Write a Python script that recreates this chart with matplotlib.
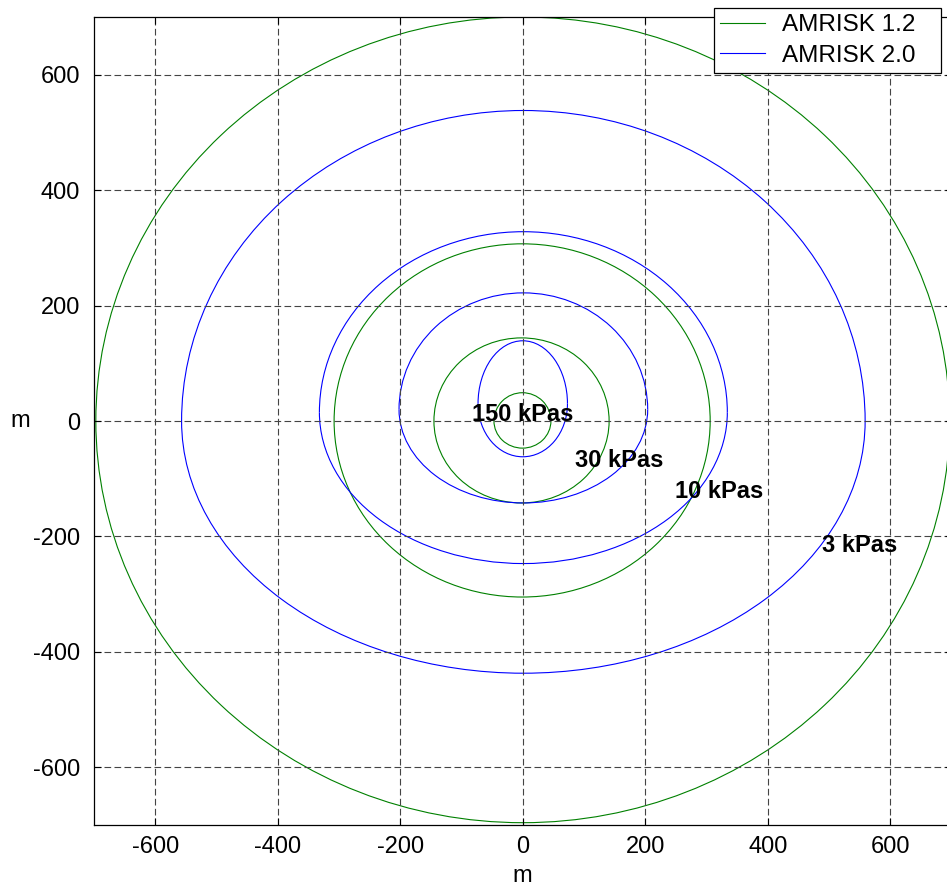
import matplotlib.pyplot as plt
from matplotlib.patches import Arc

plt.rcParams["font.family"] = ["Liberation Sans", "DejaVu Sans"]
plt.rcParams["font.size"] = 17
plt.rcParams["axes.unicode_minus"] = False

# contour extents (m): left, right, top, bottom, y of widest point
green_left = [-697, -308, -145, -47]
green_right = [697, 306, 141, 46]
green_top = [700, 307, 144, 49]
green_bottom = [-696, -305, -142, -47]
green_mid = [0, 0, 0, 0]

blue_left = [-557, -332, -202, -73]
blue_right = [559, 334, 204, 73]
blue_top = [538, 328, 222, 139]
blue_bottom = [-437, -247, -142, -62]
blue_mid = [0, 15, 20, 30]

labels = ["150 kPas", "30 kPas", "10 kPas", "3 kPas"]
label_x = [-83, 86, 248, 489]
label_y = [12, -68, -123, -215]

ticks = [-600, -400, -200, 0, 200, 400, 600]

green = "#008000"
blue = "#0000ff"

fig = plt.figure(figsize=(9.47, 8.88), dpi=100)
ax = fig.add_axes([94 / 947, 63 / 888, 857.5 / 947, 808 / 888])


def draw_contours(left, right, top, bottom, mid, color):
    for l, r, t, b, m in zip(left, right, top, bottom, mid):
        cx = (l + r) / 2
        w = r - l
        ax.add_patch(Arc((cx, m), w, 2 * (t - m), theta1=0, theta2=180,
                         color=color, lw=0.8))
        ax.add_patch(Arc((cx, m), w, 2 * (m - b), theta1=180, theta2=360,
                         color=color, lw=0.8))


draw_contours(green_left, green_right, green_top, green_bottom, green_mid, green)
draw_contours(blue_left, blue_right, blue_top, blue_bottom, blue_mid, blue)

for txt, x, y in zip(labels, label_x, label_y):
    ax.text(x, y, txt, fontweight="bold", ha="left", va="center")

ax.plot([], [], color=green, lw=0.8, label="AMRISK 1.2")
ax.plot([], [], color=blue, lw=0.8, label="AMRISK 2.0")

ax.set_xlim(-700, 700)
ax.set_ylim(-700, 700)
ax.set_xticks(ticks)
ax.set_yticks(ticks)
ax.tick_params(direction="in", length=5, width=0.8, top=True, right=True)
ax.tick_params(axis="x", pad=8)
ax.tick_params(axis="y", pad=10)
ax.grid(True, color="#444444", linestyle=(0, (6, 3)), linewidth=0.8)
for s in ax.spines.values():
    s.set_linewidth(0.9)

ax.set_xlabel("m")
ax.xaxis.set_label_coords(0.499, -0.05)
ax.set_ylabel("m", rotation=0, ha="center", va="center")
ax.yaxis.set_label_coords(-0.0863, 0.5)

leg = ax.legend(loc="upper left", mode="expand",
                bbox_to_anchor=(714 / 947, 1 - 73 / 888, 227 / 947, 65 / 888),
                bbox_transform=fig.transFigure, borderaxespad=0,
                fancybox=False, framealpha=1, edgecolor="black",
                fontsize=17.5, handlelength=1.85, handletextpad=0.7,
                labelspacing=0.35, borderpad=0.25)
leg.get_frame().set_linewidth(0.9)

fig.savefig("out.png", dpi=100)
